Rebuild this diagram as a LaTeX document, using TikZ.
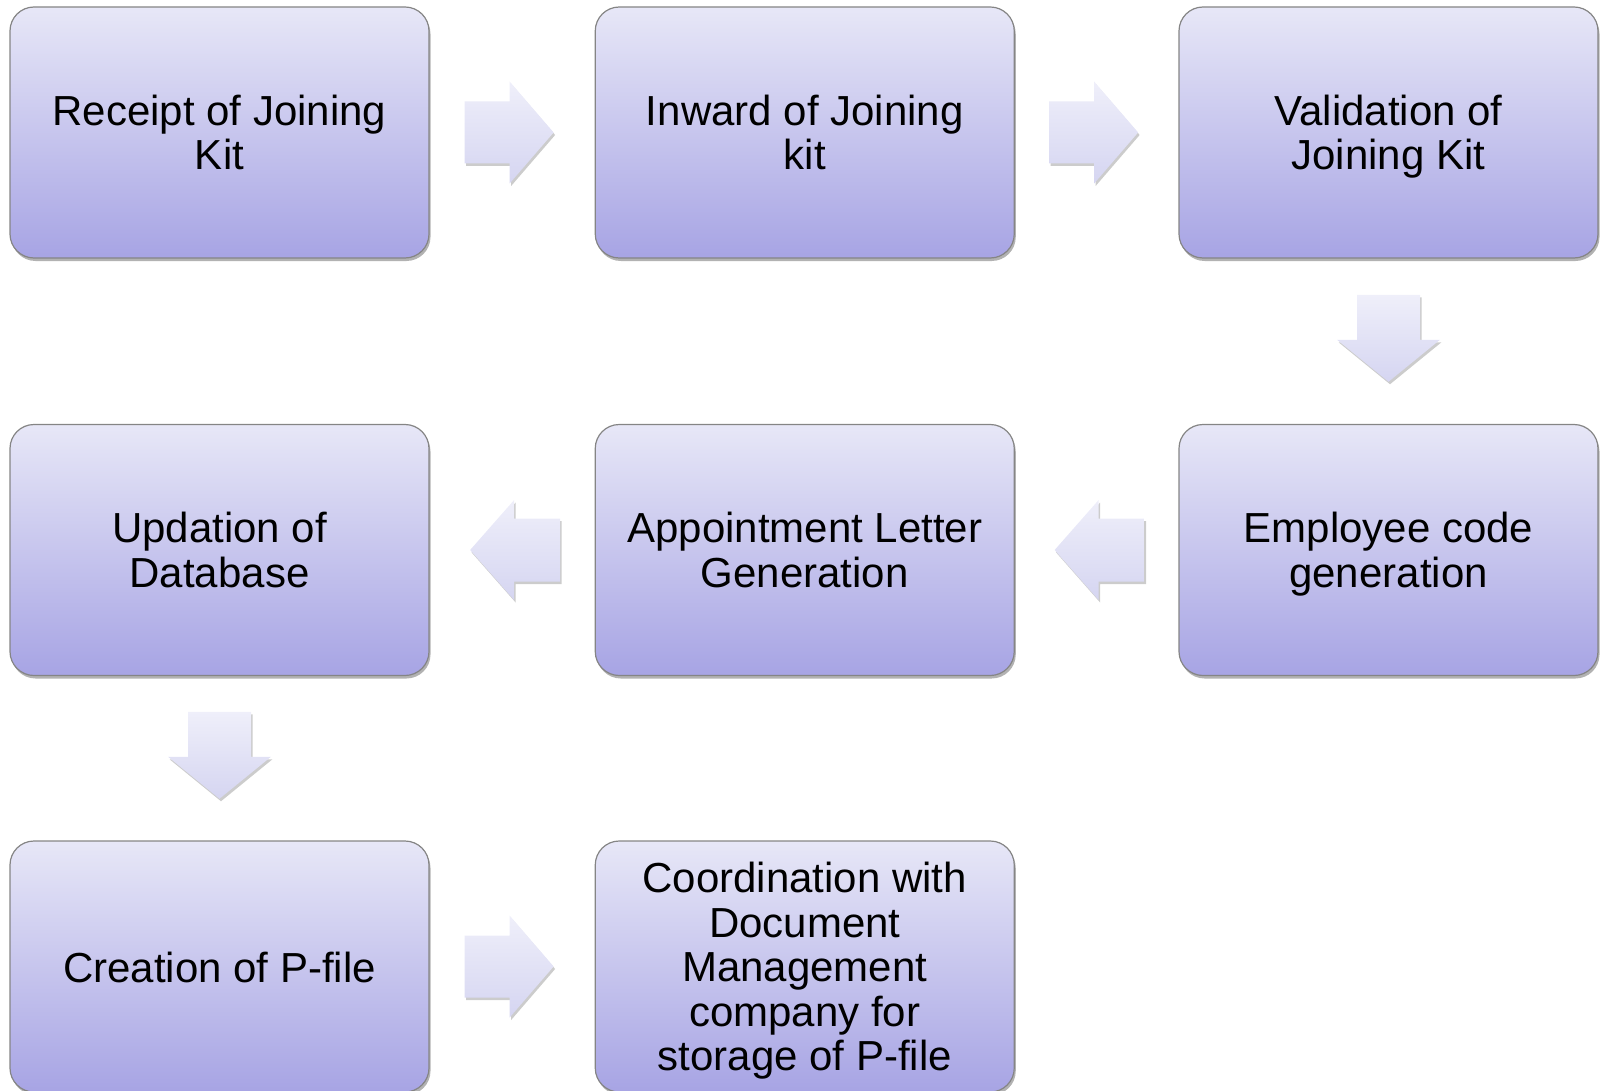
\documentclass[tikz,border=0pt]{standalone}
\usepackage{fontspec}
\setmainfont{Liberation Sans}
\usetikzlibrary{shadows,calc}
\definecolor{boxtop}{HTML}{E7E7F7}
\definecolor{boxbot}{HTML}{A7A4E4}
\definecolor{boxline}{HTML}{858585}
\definecolor{arrtop}{HTML}{EFEFFA}
\definecolor{arrbot}{HTML}{D5D5F1}
\newcommand\nodepth[1]{\raisebox{0pt}[\height][0pt]{#1}}
\tikzset{
  stepbox/.style={draw=boxline, line width=1.2pt, rounded corners=24pt,
    top color=boxtop, bottom color=boxbot,
    minimum width=419pt, minimum height=251pt, inner sep=0pt,
    align=center, font=\fontsize{42}{44.5}\selectfont,
    execute at begin node={\rule{0pt}{31pt}},
    drop shadow={shadow xshift=1.5pt, shadow yshift=-3pt, opacity=0.3, fill=black}},
  blockarrow/.style={top color=arrtop, bottom color=arrbot,
    drop shadow={shadow xshift=1.5pt, shadow yshift=-2.5pt, opacity=0.2, fill=black}},
  rarrow/.pic={\path[blockarrow] (-44.5,-31) -- (0.5,-31) -- (0.5,-51) -- (44.5,0)
      -- (0.5,51) -- (0.5,31) -- (-44.5,31) -- cycle;},
  larrow/.pic={\path[blockarrow] (45,-31.5) -- (-1,-31.5) -- (-1,-50) -- (-45,0)
      -- (-1,50) -- (-1,31.5) -- (45,31.5) -- cycle;},
  darrow/.pic={\path[blockarrow] (-31.5,-43.5) -- (31.5,-43.5) -- (31.5,1.5) -- (51.5,1.5)
      -- (0,43.5) -- (-51.5,1.5) -- (-31.5,1.5) -- cycle;},
}
\begin{document}
\begin{tikzpicture}[x=1pt,y=-1pt]
\useasboundingbox (0,0) rectangle (1602,1091);
\node[stepbox] (b1) at (219.5,132.5) {Receipt of Joining\\\nodepth{Kit}};
\node[stepbox] (b2) at (804.75,132.5) {Inward of Joining\\\nodepth{kit}};
\node[stepbox] (b3) at (1388.5,132.5) {Validation of\\\nodepth{Joining Kit}};
\node[stepbox] (b4) at (1388.5,550) {Employee code\\\nodepth{generation}};
\node[stepbox] (b5) at (804.75,550) {Appointment Letter\\\nodepth{Generation}};
\node[stepbox] (b6) at (219.5,550) {Updation of\\\nodepth{Database}};
\node[stepbox] (b7) at (219.5,966.5) {\nodepth{Creation of P-file}};
\node[stepbox] (b8) at (804.75,966.5) {Coordination with\\Document\\Management\\company for\\\nodepth{storage of P-file}};
\pic at ($(b1.east)!0.5!(b2.west)+(-3,0)$) {rarrow};
\pic at ($(b2.east)!0.5!(b3.west)+(-3,0)$) {rarrow};
\pic at ($(b3.south)!0.5!(b4.north)+(0,-3)$) {darrow};
\pic at ($(b4.west)!0.5!(b5.east)+(3,0)$) {larrow};
\pic at ($(b5.west)!0.5!(b6.east)+(3,0)$) {larrow};
\pic at ($(b6.south)!0.5!(b7.north)+(0,-3)$) {darrow};
\pic at ($(b7.east)!0.5!(b8.west)+(-3,0)$) {rarrow};
\end{tikzpicture}
\end{document}
